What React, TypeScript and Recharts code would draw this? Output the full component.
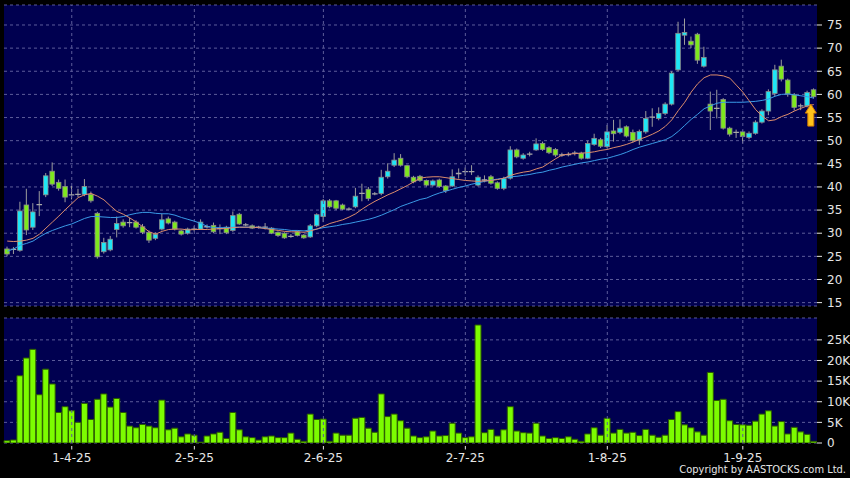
import React from 'react';
import { ComposedChart, Bar, Line, XAxis, YAxis, CartesianGrid, ReferenceLine, ReferenceDot } from 'recharts';

// Trading days (month, day list) – categories of the chart
const tradingDays: [number, number[]][] = [
  [3, [18, 19, 20, 21, 24, 25, 26, 27, 28, 31]],
  [4, [1, 2, 3, 7, 8, 9, 10, 11, 14, 15, 16, 17, 22, 23, 24, 25, 28, 29, 30]],
  [5, [2, 6, 7, 8, 9, 12, 13, 14, 15, 16, 19, 20, 21, 22, 23, 26, 27, 28, 29, 30]],
  [6, [2, 3, 4, 5, 6, 9, 10, 11, 12, 13, 16, 17, 18, 19, 20, 23, 24, 25, 26, 27, 30]],
  [7, [1, 2, 3, 4, 7, 8, 9, 10, 11, 14, 15, 16, 17, 18, 21, 22, 23, 24, 25, 28, 29, 30, 31]],
  [8, [1, 4, 5, 6, 7, 8, 11, 12, 13, 14, 15, 18, 19, 20, 21, 22, 25, 26, 27, 28, 29]],
  [9, [1, 2, 3, 4, 5, 8, 9, 10, 11, 12, 15, 16]],
];
const categories: string[] = tradingDays.flatMap(([m, ds]) => ds.map((d) => `${d}-${m}-25`));

const tickLabels = ['1-4-25', '2-5-25', '2-6-25', '2-7-25', '1-8-25', '1-9-25'];
const priceTicks = [15, 20, 25, 30, 35, 40, 45, 50, 55, 60, 65, 70, 75];
const volumeTicks = [0, 5, 10, 15, 20, 25];

const open = [
  26.6, 26.5, 26.3, 36.1, 31.3, 36.2, 38.3, 43.4, 41.0, 40.1,
  38.3, 38.4, 38.4, 38.4, 34.3, 26.0, 26.4, 30.8, 32.4, 32.3,
  32.4, 31.4, 30.2, 28.9, 30.9, 33.1, 32.4, 30.5, 30.0, 30.9,
  30.9, 31.4, 31.7, 31.0, 31.3, 30.6, 34.1, 31.8, 31.6, 31.3,
  31.3, 31.1, 30.2, 30.0, 29.3, 30.3, 29.6, 29.2, 31.6, 33.6,
  37.0, 37.0, 36.1, 35.2, 35.7, 38.6, 39.5, 38.5, 38.6, 42.2,
  44.7, 46.2, 44.6, 42.1, 42.3, 41.4, 40.4, 41.5, 40.2, 40.2,
  42.9, 43.3, 43.3, 40.4, 41.5, 42.2, 40.9, 39.7, 41.9, 48.0,
  46.2, 47.1, 48.0, 49.4, 48.5, 48.1, 46.9, 47.0, 47.3, 47.3,
  46.2, 49.2, 50.2, 48.7, 52.1, 51.8, 53.0, 51.8, 50.1, 51.9,
  55.1, 54.8, 55.9, 57.9, 65.3, 72.8, 71.5, 73.0, 66.1, 57.9,
  57.0, 58.9, 52.7, 51.8, 51.9, 50.7, 51.6, 54.0, 56.4, 60.2,
  66.1, 63.1, 59.9, 57.5, 57.5, 61.0,
];
const high = [
  27.1, 27.0, 36.8, 39.6, 36.5, 39.1, 43.0, 45.3, 41.6, 41.6,
  40.2, 39.6, 41.7, 39.0, 34.6, 29.0, 29.4, 33.6, 33.0, 33.3,
  32.8, 32.0, 30.6, 30.2, 34.2, 33.6, 32.7, 30.8, 31.2, 31.5,
  33.0, 31.9, 32.3, 31.9, 31.6, 34.7, 34.4, 32.2, 31.9, 31.6,
  32.2, 31.3, 30.4, 30.2, 29.8, 30.6, 29.8, 32.0, 34.3, 37.4,
  37.4, 37.2, 36.4, 35.6, 39.8, 40.7, 40.0, 38.9, 43.7, 45.1,
  47.3, 47.1, 44.8, 42.4, 42.6, 41.6, 41.6, 41.8, 40.4, 43.8,
  44.0, 44.2, 44.7, 42.5, 42.5, 42.6, 41.2, 42.2, 48.8, 48.3,
  47.3, 47.6, 50.5, 49.8, 48.8, 48.4, 47.4, 47.5, 47.8, 47.6,
  50.0, 51.5, 50.6, 53.4, 54.5, 54.6, 53.3, 52.4, 52.4, 56.4,
  57.0, 57.2, 58.3, 65.0, 75.7, 76.4, 72.5, 73.3, 70.3, 60.6,
  61.0, 59.2, 53.0, 52.4, 52.2, 52.0, 54.4, 56.8, 61.1, 66.4,
  67.5, 63.4, 60.3, 58.0, 60.8, 61.3,
];
const low = [
  25.0, 25.5, 26.0, 29.6, 30.7, 33.7, 37.8, 40.2, 39.2, 36.7,
  37.3, 37.8, 38.0, 36.6, 24.5, 25.6, 26.1, 29.1, 31.2, 31.3,
  31.0, 29.8, 27.9, 28.5, 30.6, 31.9, 30.6, 29.5, 29.7, 30.4,
  30.7, 31.0, 30.0, 29.8, 29.8, 30.3, 31.8, 31.5, 30.9, 31.0,
  30.8, 29.8, 29.2, 28.8, 29.0, 29.3, 28.8, 29.0, 31.3, 32.4,
  35.4, 35.0, 35.0, 34.9, 35.4, 36.9, 37.0, 38.2, 38.2, 41.8,
  44.3, 44.4, 41.9, 40.8, 41.1, 40.1, 40.1, 39.8, 38.7, 40.0,
  41.8, 42.4, 42.6, 40.1, 41.0, 40.5, 39.4, 39.3, 41.6, 46.2,
  45.9, 46.6, 47.8, 47.8, 47.1, 46.5, 46.5, 46.6, 46.8, 45.9,
  46.0, 48.9, 48.4, 48.4, 49.8, 51.4, 50.7, 49.6, 49.1, 51.5,
  53.0, 54.4, 55.5, 57.6, 65.0, 70.7, 70.0, 66.6, 65.8, 52.3,
  54.8, 52.4, 50.9, 50.6, 49.4, 50.3, 51.3, 53.7, 55.5, 59.6,
  62.8, 59.5, 56.5, 56.6, 57.2, 59.1,
];
const close = [
  25.5, 26.5, 34.8, 30.7, 34.6, 36.2, 42.4, 40.6, 39.7, 37.8,
  38.3, 38.4, 40.1, 37.0, 24.9, 28.0, 28.7, 32.1, 31.6, 32.3,
  31.3, 30.2, 28.5, 29.8, 32.9, 32.2, 30.9, 29.8, 30.9, 30.9,
  32.4, 31.4, 30.3, 31.0, 30.1, 33.8, 32.0, 31.8, 31.1, 31.3,
  31.3, 30.0, 29.5, 29.0, 29.3, 29.5, 29.0, 31.6, 34.0, 37.0,
  35.7, 35.4, 35.2, 35.2, 38.0, 38.6, 37.5, 38.5, 42.1, 43.4,
  45.8, 44.7, 42.2, 41.1, 41.4, 40.4, 41.3, 40.1, 39.2, 42.2,
  42.9, 43.3, 43.3, 42.1, 41.5, 40.8, 39.7, 41.8, 48.0, 46.5,
  46.9, 47.1, 49.3, 48.1, 47.4, 46.9, 46.9, 47.0, 47.3, 46.2,
  49.4, 50.5, 48.8, 51.9, 51.5, 52.7, 51.0, 50.0, 52.0, 54.8,
  55.1, 55.9, 57.9, 64.6, 73.2, 73.4, 70.7, 67.4, 68.0, 56.4,
  57.0, 52.7, 51.4, 51.8, 50.9, 51.6, 54.0, 56.4, 60.6, 65.3,
  63.3, 60.1, 57.2, 57.5, 60.4, 59.5,
];
// short moving average (orange)
const maShort = [
  28.3, 28.2, 28.3, 28.5, 28.9, 29.8, 31.1, 32.4, 33.7, 35.1,
  36.4, 37.7, 38.3, 38.6, 38.0, 37.2, 35.9, 34.7, 34.1, 33.3,
  32.4, 31.4, 30.3, 29.8, 30.4, 30.8, 30.9, 30.9, 30.7, 30.8,
  30.8, 30.8, 30.9, 31.0, 31.0, 31.2, 31.3, 31.3, 31.3, 31.2,
  31.0, 30.8, 30.6, 30.4, 30.3, 30.3, 30.2, 30.5, 30.9, 31.5,
  32.1, 32.5, 32.9, 33.5, 34.2, 35.2, 36.1, 36.9, 37.6, 38.3,
  38.9, 39.6, 40.3, 41.1, 41.9, 42.1, 42.2, 42.2, 42.0, 41.8,
  41.6, 41.4, 41.3, 41.2, 41.3, 41.4, 41.6, 41.9, 42.5, 42.9,
  43.2, 43.4, 43.9, 44.3, 45.2, 46.1, 46.9, 47.1, 47.2, 47.3,
  47.4, 47.6, 47.9, 48.1, 48.5, 48.8, 49.2, 49.7, 50.3, 50.8,
  51.4, 52.1, 53.1, 54.5, 56.5, 58.3, 60.5, 62.3, 63.6, 64.2,
  64.2, 64.0, 63.5, 62.0, 60.5, 58.6, 56.7, 55.3, 54.3, 54.5,
  55.2, 55.7, 56.4, 57.0, 57.5, 57.8,
];
// long moving average (blue)
const maLong = [
  26.1, 26.6, 27.4, 27.8, 28.3, 29.2, 30.0, 30.6, 31.1, 31.6,
  32.0, 32.6, 33.2, 33.6, 33.6, 33.5, 33.4, 33.4, 33.6, 34.0,
  34.3, 34.5, 34.5, 34.3, 34.2, 34.2, 33.9, 33.4, 33.0, 32.6,
  32.1, 31.5, 31.2, 31.2, 31.2, 31.3, 31.3, 31.3, 31.3, 31.2,
  31.1, 31.0, 30.9, 30.8, 30.6, 30.6, 30.5, 30.7, 30.9, 31.2,
  31.4, 31.6, 31.9, 32.1, 32.4, 32.7, 33.0, 33.4, 33.9, 34.5,
  35.1, 35.8, 36.3, 36.8, 37.3, 37.6, 38.2, 38.7, 39.1, 39.5,
  39.9, 40.2, 40.6, 40.9, 41.2, 41.5, 41.7, 41.9, 42.2, 42.3,
  42.5, 42.7, 43.0, 43.2, 43.6, 43.9, 44.3, 44.6, 44.9, 45.2,
  45.4, 45.7, 46.0, 46.2, 46.6, 47.0, 47.5, 48.1, 48.6, 49.0,
  49.4, 49.8, 50.2, 50.9, 52.0, 53.3, 54.6, 55.7, 56.9, 57.5,
  58.1, 58.3, 58.3, 58.3, 58.3, 58.4, 58.5, 58.7, 59.0, 59.6,
  60.0, 60.1, 59.9, 59.7, 59.5, 59.2,
];
// volume in thousands of shares
const volumeK = [
  0.56, 0.73, 16.3, 20.6, 22.7, 11.7, 17.9, 14.3, 7.4, 8.8,
  7.8, 5.0, 9.6, 5.7, 10.6, 11.9, 8.7, 10.8, 7.4, 4.1,
  3.7, 4.5, 4.1, 3.7, 10.4, 3.2, 3.6, 1.5, 2.2, 1.9,
  0.2, 1.7, 2.2, 2.6, 1.1, 7.4, 3.2, 1.5, 1.3, 0.7,
  1.5, 1.7, 1.3, 1.3, 2.4, 0.9, 0.4, 7.0, 5.7, 5.8,
  0.4, 2.4, 1.9, 1.9, 6.0, 6.2, 3.6, 2.6, 11.9, 6.4,
  7.0, 5.4, 3.6, 1.7, 1.3, 1.5, 2.9, 1.7, 1.8, 4.8,
  2.4, 1.3, 1.5, 28.6, 2.5, 3.3, 1.7, 3.2, 8.8, 2.9,
  2.5, 2.4, 4.8, 1.7, 1.1, 1.3, 1.1, 1.5, 0.9, 0.4,
  2.2, 3.7, 1.9, 6.0, 2.4, 3.3, 2.4, 2.6, 1.8, 3.3,
  1.9, 1.4, 1.9, 5.7, 7.6, 4.4, 3.7, 2.7, 1.9, 17.1,
  10.3, 10.6, 5.4, 4.5, 4.4, 4.3, 5.3, 7.0, 7.8, 4.1,
  5.2, 2.2, 3.8, 2.7, 2.1, 0.4,
];
const arrowIndex = 124;
const arrowTipPrice = 57.9;

const data = categories.map((date, i) => ({
  date,
  range: [low[i], high[i]],
  open: open[i],
  high: high[i],
  low: low[i],
  close: close[i],
  maShort: maShort[i],
  maLong: maLong[i],
  vol: volumeK[i],
}));

const NAVY = '#000050';
const GRID = '#5c5c9a';
const TXT = '#e6e6e6';
const CYAN = '#1ee6f6';
const GREEN = '#7ee81e';
const VOLGREEN = '#7cfc00';
const ORANGE = '#dc8c6c';
const BLUE = '#3a9ae6';
const FONT = '"DejaVu Sans", sans-serif';

const Candle = (props: any) => {
  const { x, y, width, height, payload } = props;
  if (x == null || y == null || !payload) return null;
  const { open: o, close: c, high: h, low: l } = payload;
  const top = Math.min(y, y + height);
  const bot = Math.max(y, y + height);
  const span = h - l;
  const ppu = span > 0 ? (bot - top) / span : 0;
  const yOf = (v: number) => top + (h - v) * ppu;
  const cx = x + width / 2;
  const bw = Math.max(width - 1.4, 2);
  const bx = cx - bw / 2;
  const up = c > o;
  const down = c < o;
  const bTop = yOf(Math.max(o, c));
  const bBot = yOf(Math.min(o, c));
  return (
    <g>
      <line x1={cx} x2={cx} y1={top} y2={bot} stroke="#9c9c9c" strokeWidth={1} />
      {up || down ? (
        <rect x={bx} y={bTop} width={bw} height={Math.max(bBot - bTop, 1)} fill={up ? CYAN : GREEN} stroke="#8a8a8a" strokeWidth={0.8} />
      ) : (
        <line x1={bx - 0.5} x2={bx + bw + 0.5} y1={bTop} y2={bTop} stroke="#a8a8a8" strokeWidth={1.3} />
      )}
    </g>
  );
};

const Arrow = (props: any) => {
  const { cx, cy } = props;
  if (cx == null || cy == null) return null;
  const x = cx + 3.5;
  const d = `M ${x} ${cy} L ${x + 5.5} ${cy + 9} L ${x + 3} ${cy + 9} L ${x + 3} ${cy + 22} L ${x - 3} ${cy + 22} L ${x - 3} ${cy + 9} L ${x - 5.5} ${cy + 9} Z`;
  return <path d={d} fill="#ffc21a" stroke="#d07a00" strokeWidth={1} />;
};

const DateTick = (props: any) => {
  const { x, y, payload } = props;
  if (!payload || !tickLabels.includes(payload.value)) return null;
  return (
    <g>
      <line x1={x} x2={x} y1={y + 3} y2={y + 6.5} stroke={TXT} strokeWidth={1} />
      <text x={x} y={y + 18.5} textAnchor="middle" fill={TXT} fontSize={12} fontFamily={FONT}>
        {payload.value}
      </text>
    </g>
  );
};

export default function App() {
  return (
    <div style={{ position: 'absolute', left: 0, top: 0, width: 850, height: 478, background: '#000', overflow: 'hidden' }}>
      <div style={{ position: 'absolute', left: 0, top: 0 }}>
        <ComposedChart width={850} height={310} data={data} margin={{ top: 5, right: 0, bottom: 4, left: 4 }} barCategoryGap={0} barGap={0}>
          <CartesianGrid vertical={false} stroke={GRID} strokeDasharray="3 3" fill={NAVY} fillOpacity={1} />
          <XAxis dataKey="date" hide />
          <YAxis
            orientation="right"
            domain={[14.27, 79.32]}
            ticks={priceTicks}
            interval={0}
            allowDataOverflow
            width={33}
            axisLine={false}
            tickSize={5}
            tickMargin={5}
            tickLine={{ stroke: TXT }}
            tick={{ fill: TXT, fontSize: 12, fontFamily: FONT }}
          />
          {tickLabels.map((t) => (
            <ReferenceLine key={t} x={t} stroke={GRID} strokeDasharray="3 3" />
          ))}
          <Line type="linear" dataKey="maLong" stroke={BLUE} strokeWidth={1} dot={false} activeDot={false} isAnimationActive={false} />
          <Line type="linear" dataKey="maShort" stroke={ORANGE} strokeWidth={1} dot={false} activeDot={false} isAnimationActive={false} />
          <Bar dataKey="range" shape={Candle} isAnimationActive={false} />
          <ReferenceDot x={categories[arrowIndex]} y={arrowTipPrice} shape={Arrow} />
        </ComposedChart>
      </div>
      <div style={{ position: 'absolute', left: 0, top: 0 }}>
        <ComposedChart width={850} height={478} data={data} margin={{ top: 318, right: 0, bottom: 0, left: 4 }} barCategoryGap={0} barGap={0}>
          <CartesianGrid vertical={false} stroke={GRID} strokeDasharray="3 3" fill={NAVY} fillOpacity={1} />
          <XAxis dataKey="date" height={35} interval={0} axisLine={false} tickLine={false} tickSize={0} tickMargin={0} tick={<DateTick />} />
          <YAxis
            orientation="right"
            domain={[0, 30.3]}
            ticks={volumeTicks}
            interval={0}
            allowDataOverflow
            width={33}
            axisLine={false}
            tickSize={5}
            tickMargin={5}
            tickLine={{ stroke: TXT }}
            tick={{ fill: TXT, fontSize: 12, fontFamily: FONT }}
            tickFormatter={(v: number) => (v === 0 ? '0' : `${v}K`)}
          />
          {tickLabels.map((t) => (
            <ReferenceLine key={t} x={t} stroke={GRID} strokeDasharray="3 3" />
          ))}
          <Bar dataKey="vol" fill={VOLGREEN} stroke="#2c5a00" strokeWidth={1} isAnimationActive={false} />
        </ComposedChart>
      </div>
      <div
        style={{
          position: 'absolute',
          right: 4,
          top: 464,
          color: TXT,
          fontSize: 11,
          lineHeight: '12px',
          fontFamily: '"DejaVu Sans Condensed", "DejaVu Sans", sans-serif',
          fontStretch: 'condensed',
          whiteSpace: 'nowrap',
        }}
      >
        Copyright by AASTOCKS.com Ltd.
      </div>
    </div>
  );
}
